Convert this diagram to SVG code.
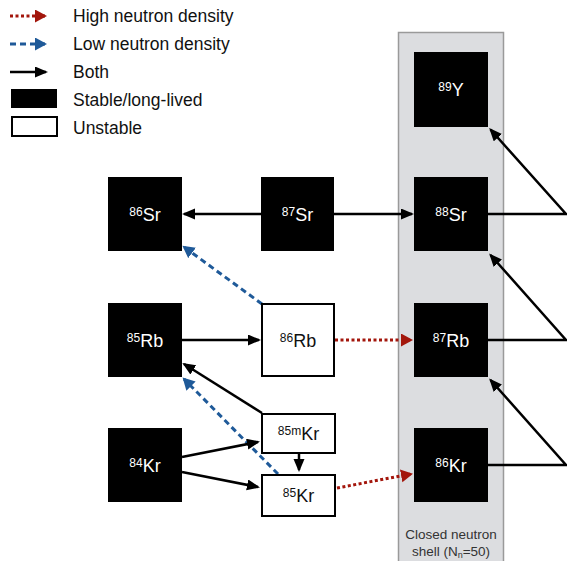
<svg xmlns="http://www.w3.org/2000/svg" width="567" height="561" viewBox="0 0 567 561">
<defs>
<style>
text{font-family:"Liberation Sans",Arial,sans-serif}
.lg{font-size:17.5px;fill:#111}
.lbl{font-size:18px;text-anchor:middle}
.w{fill:#fff}
.k{fill:#111}
.sup{font-size:12px}
.stable{fill:#000}
.unstable{fill:#fff;stroke:#000;stroke-width:2}
.both{stroke:#000;stroke-width:2.5;fill:none;marker-end:url(#hk)}
.high{stroke:#a3160c;stroke-width:3;stroke-dasharray:3 2.5;fill:none;marker-end:url(#hr)}
.low{stroke:#1f5a99;stroke-width:3;stroke-dasharray:6 4;fill:none;marker-end:url(#hb)}
</style>
<marker id="hk" markerUnits="userSpaceOnUse" markerWidth="14" markerHeight="12" refX="11" refY="5.5" orient="auto"><path d="M0,0 L13,5.5 L0,11 Z" fill="#000"/></marker>
<marker id="hr" markerUnits="userSpaceOnUse" markerWidth="14" markerHeight="14" refX="10" refY="6.5" orient="auto"><path d="M0,0 L12,6.5 L0,13 Z" fill="#a3160c"/></marker>
<marker id="hb" markerUnits="userSpaceOnUse" markerWidth="14" markerHeight="14" refX="10" refY="6.5" orient="auto"><path d="M0,0 L12,6.5 L0,13 Z" fill="#1f5a99"/></marker>
</defs>
<rect width="567" height="561" fill="#fff"/>

<g id="legend">
<line class="high" x1="10" y1="16" x2="45" y2="16"/>
<text class="lg" x="73" y="22">High neutron density</text>
<line class="low" x1="10" y1="44" x2="45" y2="44"/>
<text class="lg" x="73" y="50">Low neutron density</text>
<line class="both" x1="10" y1="72" x2="46" y2="72"/>
<text class="lg" x="73" y="78">Both</text>
<rect class="stable" x="11" y="89" width="46" height="19"/>
<text class="lg" x="73" y="106">Stable/long-lived</text>
<rect class="unstable" x="12" y="117" width="45" height="19"/>
<text class="lg" x="73" y="134">Unstable</text>
</g>

<g id="shell">
<rect x="398.5" y="32.5" width="105" height="530" fill="#dcdde0" stroke="#9a9a9a" stroke-width="1.5"/>
<text x="451" y="539" font-size="13.5" fill="#333" text-anchor="middle">Closed neutron</text>
<text x="451" y="556" font-size="13.5" fill="#333" text-anchor="middle">shell (N<tspan font-size="9" dy="2">n</tspan><tspan dy="-2">=50)</tspan></text>
</g>

<g id="connectors">
<line class="both" x1="261" y1="214" x2="184" y2="214"/>
<line class="both" x1="334" y1="214" x2="412" y2="214"/>
<polyline class="both" points="488,214 566,214 490.5,129.5"/>
<polyline class="both" points="488,340 566,340 490.5,255"/>
<polyline class="both" points="488,465 566,465 490.5,380"/>
<line class="both" x1="182" y1="340" x2="259" y2="340"/>
<line class="high" x1="335" y1="340" x2="411" y2="340"/>
<line class="low" x1="262" y1="304" x2="184" y2="247"/>
<line class="both" x1="262" y1="413" x2="184" y2="364"/>
<line class="low" x1="278" y1="474" x2="184" y2="379"/>
<line class="both" x1="182" y1="457" x2="258" y2="442"/>
<line class="both" x1="182" y1="472" x2="258" y2="487"/>
<line class="both" x1="299" y1="454" x2="299" y2="470"/>
<line class="high" x1="337" y1="488" x2="411" y2="474"/>
</g>

<g id="n89Y"><rect class="stable" x="414" y="52" width="74" height="75"/><text class="lbl w" x="451" y="96"><tspan class="sup" dy="-5">89</tspan><tspan dy="5">Y</tspan></text></g>
<g id="n88Sr"><rect class="stable" x="414" y="177" width="74" height="74"/><text class="lbl w" x="451" y="221"><tspan class="sup" dy="-5">88</tspan><tspan dy="5">Sr</tspan></text></g>
<g id="n87Rb"><rect class="stable" x="414" y="303" width="74" height="74"/><text class="lbl w" x="451" y="347"><tspan class="sup" dy="-5">87</tspan><tspan dy="5">Rb</tspan></text></g>
<g id="n86Kr"><rect class="stable" x="414" y="428" width="74" height="74"/><text class="lbl w" x="451" y="472"><tspan class="sup" dy="-5">86</tspan><tspan dy="5">Kr</tspan></text></g>
<g id="n86Sr"><rect class="stable" x="108" y="177" width="74" height="74"/><text class="lbl w" x="145" y="221"><tspan class="sup" dy="-5">86</tspan><tspan dy="5">Sr</tspan></text></g>
<g id="n87Sr"><rect class="stable" x="261" y="177" width="73" height="74"/><text class="lbl w" x="297.5" y="221"><tspan class="sup" dy="-5">87</tspan><tspan dy="5">Sr</tspan></text></g>
<g id="n85Rb"><rect class="stable" x="108" y="303" width="74" height="74"/><text class="lbl w" x="145" y="347"><tspan class="sup" dy="-5">85</tspan><tspan dy="5">Rb</tspan></text></g>
<g id="n86Rb"><rect class="unstable" x="262" y="304" width="72" height="72"/><text class="lbl k" x="298" y="347"><tspan class="sup" dy="-5">86</tspan><tspan dy="5">Rb</tspan></text></g>
<g id="n84Kr"><rect class="stable" x="108" y="428" width="74" height="74"/><text class="lbl w" x="145" y="472"><tspan class="sup" dy="-5">84</tspan><tspan dy="5">Kr</tspan></text></g>
<g id="n85mKr"><rect class="unstable" x="262" y="414" width="73" height="39"/><text class="lbl k" x="298.5" y="440"><tspan class="sup" dy="-5">85m</tspan><tspan dy="5">Kr</tspan></text></g>
<g id="n85Kr"><rect class="unstable" x="262" y="475" width="73" height="41"/><text class="lbl k" x="298.5" y="502"><tspan class="sup" dy="-5">85</tspan><tspan dy="5">Kr</tspan></text></g>
</svg>
